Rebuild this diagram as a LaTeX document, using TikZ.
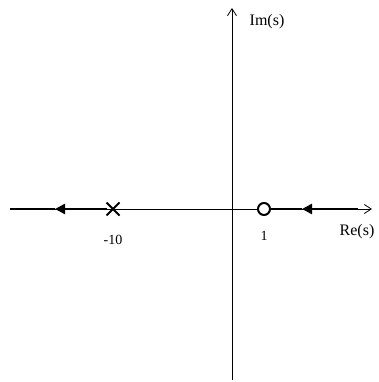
\documentclass[tikz,border=0pt]{standalone}
\usepackage{fontspec}
\setmainfont{Liberation Serif}
\usetikzlibrary{arrows.meta,shapes.misc}

\begin{document}
\begin{tikzpicture}[
  x=1pt, y=-1pt,
  axis/.style={line width=0.8pt, -{Straight Barb[length=7pt,width=9pt,line width=0.8pt]}},
  locus/.style={line width=2.4pt},
  dir/.style={locus, -{Triangle[length=10pt,width=10pt]}},
  pole/.style={cross out, draw, line width=2pt, minimum size=11pt, inner sep=0pt},
  zero/.style={circle, draw, line width=2pt, fill=white, minimum size=12pt, inner sep=0pt},
  lbl/.style={font=\fontsize{16}{18}\selectfont},
  num/.style={font=\fontsize{14}{16}\selectfont},
]
\useasboundingbox (0,0) rectangle (379,382);

% axes
\coordinate (reL) at (10,209);
\coordinate (reR) at (372,209);
\coordinate (imB) at (232,380);
\coordinate (imT) at (232,8);
\draw[axis] (reL) -- (reR);
\draw[axis] (imB) -- (imT);

% root locus branches
\coordinate (arrL) at (55,209);
\coordinate (arrR) at (302,209);
\coordinate (endR) at (358,209);
\node[pole] (p1) at (113,209) {};
\draw[dir] (p1) -- (arrL);
\draw[locus] (arrL) -- (reL);
\draw[dir] (endR) -- (arrR);
\draw[locus] (arrR) -- (264,209);
\node[zero] (z1) at (264,209) {};

% labels
\node[num] (lp1) at (113,240) {-10};
\node[num] (lz1) at (264,236) {1};
\node[lbl] (lre) at (357,232) {Re(s)};
\node[lbl] (lim) at (267,22) {Im(s)};

\end{tikzpicture}
\end{document}
